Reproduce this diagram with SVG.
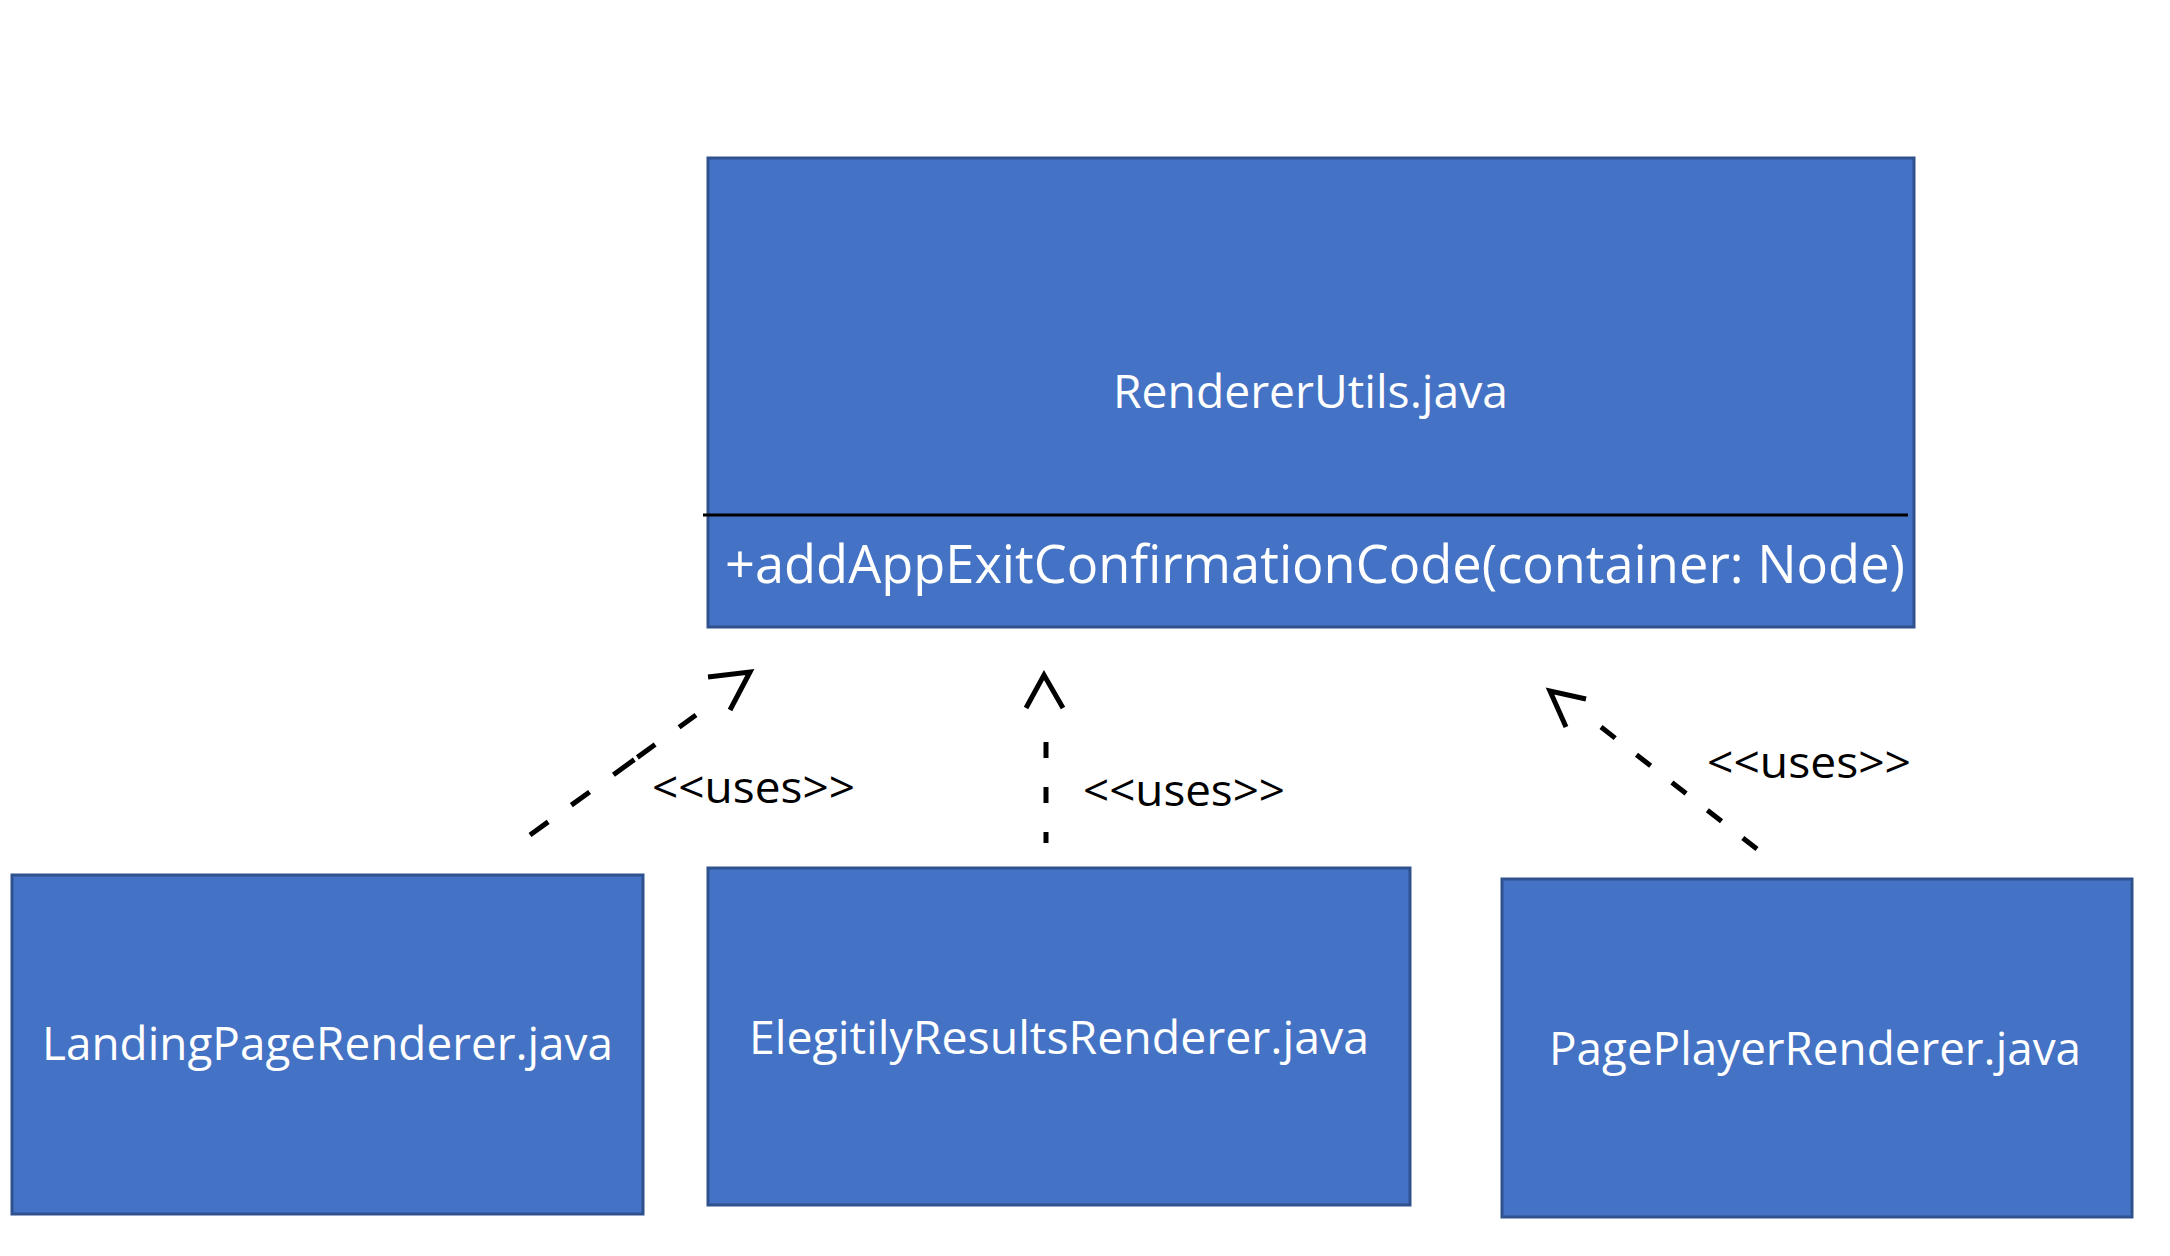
<svg xmlns="http://www.w3.org/2000/svg" width="2170" height="1256" viewBox="0 0 2170 1256">
<style>
.box{fill:#4472C4;stroke:#2F528F;stroke-width:3}
.wt{fill:#ffffff;font-family:"Open Sans","Liberation Sans",sans-serif}
.lbl{fill:#000000;font-family:"Open Sans","Liberation Sans",sans-serif;font-size:44px}
.dash{fill:none;stroke:#000;stroke-width:5}
.head{fill:none;stroke:#000;stroke-width:5;stroke-linejoin:miter}
</style>
<rect width="2170" height="1256" fill="#ffffff"/>
<g id="renderer-utils">
<rect class="box" x="708" y="158" width="1206" height="469"/>
<line x1="703" y1="515" x2="1908" y2="515" stroke="#000" stroke-width="3"/>
<text class="wt" x="1113" y="408" font-size="45" textLength="395" lengthAdjust="spacingAndGlyphs">RendererUtils.java</text>
<text class="wt" x="725" y="583" font-size="53" textLength="1180" lengthAdjust="spacingAndGlyphs">+addAppExitConfirmationCode(container: Node)</text>
</g>
<g id="landing-page-renderer">
<rect class="box" x="12" y="875" width="631" height="339"/>
<text class="wt" x="42" y="1060" font-size="46" textLength="571" lengthAdjust="spacingAndGlyphs">LandingPageRenderer.java</text>
</g>
<g id="elegitily-results-renderer">
<rect class="box" x="708" y="868" width="702" height="337"/>
<text class="wt" x="749" y="1054" font-size="46" textLength="620" lengthAdjust="spacingAndGlyphs">ElegitilyResultsRenderer.java</text>
</g>
<g id="page-player-renderer">
<rect class="box" x="1502" y="879" width="630" height="338"/>
<text class="wt" x="1549" y="1065" font-size="46" textLength="532" lengthAdjust="spacingAndGlyphs">PagePlayerRenderer.java</text>
</g>
<g id="connectors">
<path class="dash" d="M530,835 L696,715" stroke-dasharray="22.4 28.6 22.5 29.5 25.7 3.8 21.9 29.6 22.7 1000"/>
<polyline class="head" points="708,677 750,672 730,710"/>
<text class="lbl" x="652" y="803" textLength="203" lengthAdjust="spacingAndGlyphs">&lt;&lt;uses&gt;&gt;</text>
<path class="dash" d="M1046,843 L1046,737" stroke-dasharray="11 29 16 29 16 100"/>
<polyline class="head" points="1026,708 1044,675 1063,708"/>
<text class="lbl" x="1083" y="806" textLength="202" lengthAdjust="spacingAndGlyphs">&lt;&lt;uses&gt;&gt;</text>
<path class="dash" d="M1757,849 L1601,727" stroke-dasharray="18 27"/>
<polyline class="head" points="1586,699 1550,691 1566,727"/>
<text class="lbl" x="1707" y="778" textLength="204" lengthAdjust="spacingAndGlyphs">&lt;&lt;uses&gt;&gt;</text>
</g>
</svg>
